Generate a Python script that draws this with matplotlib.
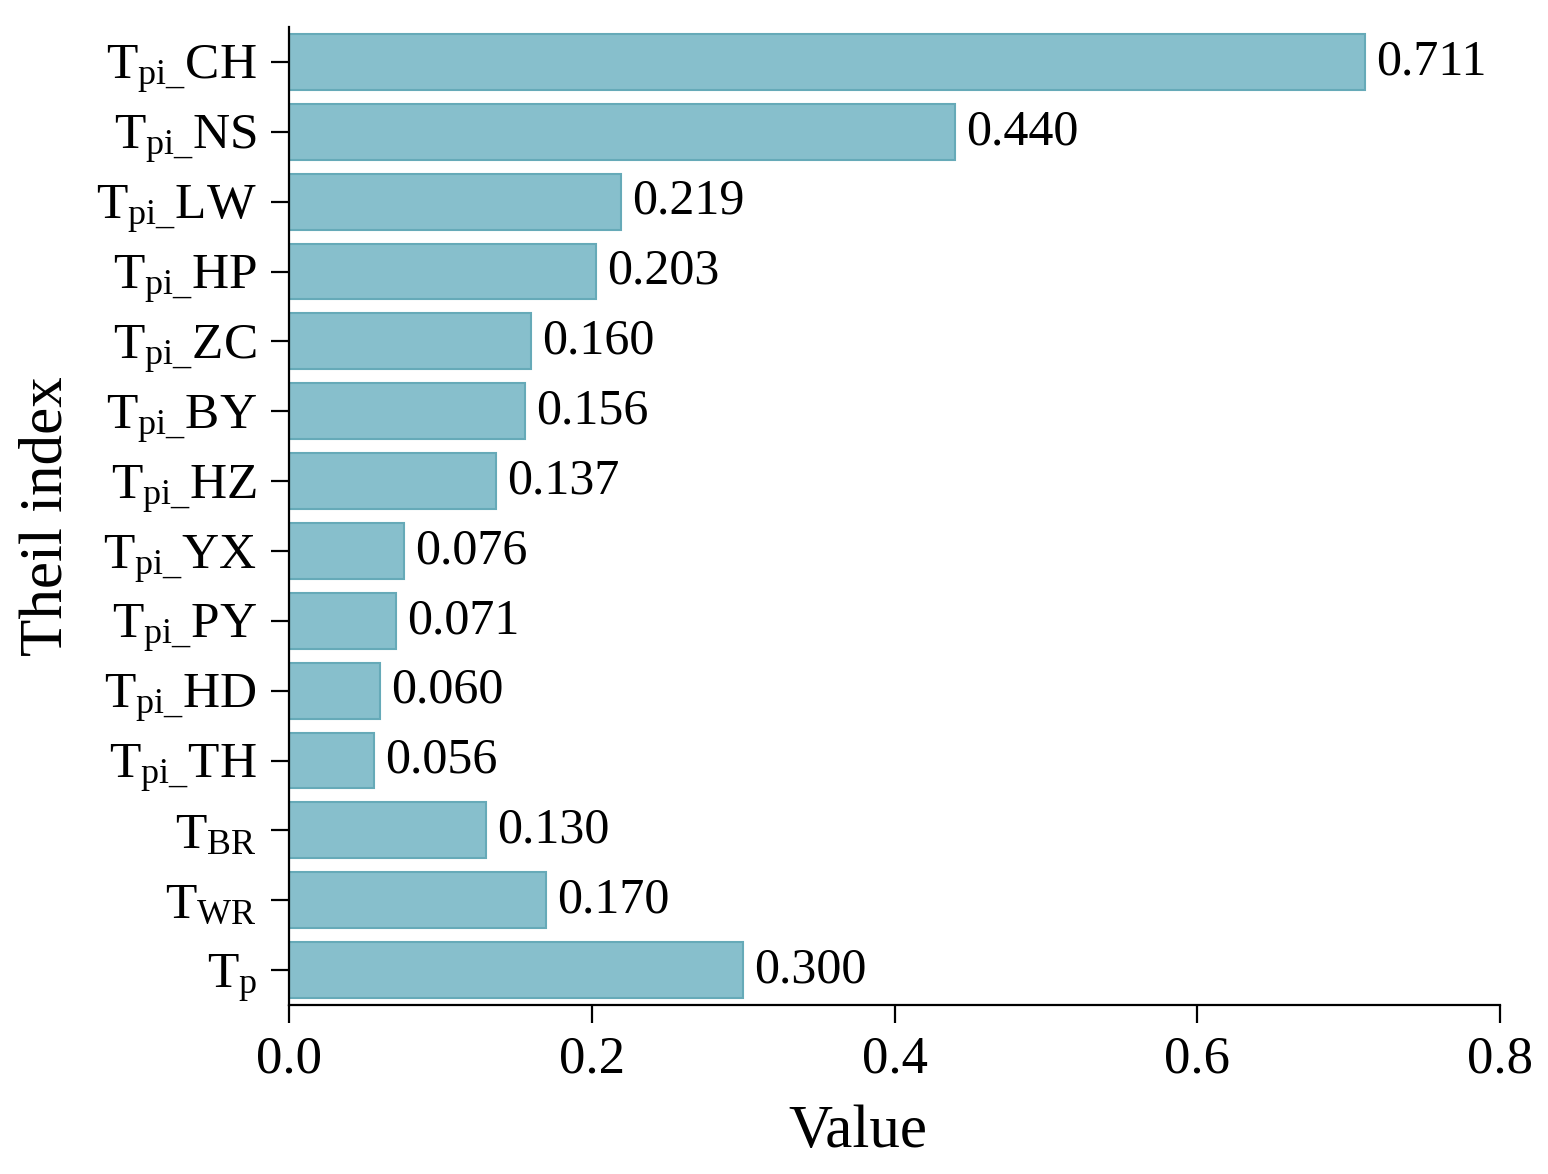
import matplotlib
matplotlib.use('Agg')
import matplotlib.pyplot as plt

plt.rcParams['font.family'] = ['Liberation Serif', 'DejaVu Serif']
plt.rcParams['mathtext.fontset'] = 'custom'
plt.rcParams['mathtext.rm'] = 'Liberation Serif'
plt.rcParams['mathtext.it'] = 'Liberation Serif:italic'

labels = [r'T$_{\mathrm{pi\_}}$CH', r'T$_{\mathrm{pi\_}}$NS', r'T$_{\mathrm{pi\_}}$LW',
          r'T$_{\mathrm{pi\_}}$HP', r'T$_{\mathrm{pi\_}}$ZC', r'T$_{\mathrm{pi\_}}$BY',
          r'T$_{\mathrm{pi\_}}$HZ', r'T$_{\mathrm{pi\_}}$YX', r'T$_{\mathrm{pi\_}}$PY',
          r'T$_{\mathrm{pi\_}}$HD', r'T$_{\mathrm{pi\_}}$TH', r'T$_{\mathrm{BR}}$',
          r'T$_{\mathrm{WR}}$', r'T$_{\mathrm{p}}$']
values = [0.711, 0.440, 0.219, 0.203, 0.160, 0.156, 0.137,
          0.076, 0.071, 0.060, 0.056, 0.130, 0.170, 0.300]
xticks = [0.0, 0.2, 0.4, 0.6, 0.8]

fig = plt.figure(figsize=(15.48, 11.74), dpi=100)
ax = fig.add_axes([0.1867, 0.1439, 0.969 - 0.1867, 0.977 - 0.1439])

pos = list(range(len(values)))
bars = ax.barh(pos, values, height=0.8, color='#87BFCC', edgecolor='#66AAB8', linewidth=1.5)
ax.bar_label(bars, labels=[f'{v:.3f}' for v in values], padding=8, fontsize=36)

ax.set_ylim(len(values) - 0.5, -0.5)
ax.set_xlim(0, 0.8)
ax.set_yticks(pos)
ax.set_yticklabels(labels)
ax.set_xticks(xticks)
ax.set_xticklabels([f'{t:.1f}' for t in xticks])

for s in ['top', 'right']:
    ax.spines[s].set_visible(False)
for s in ['left', 'bottom']:
    ax.spines[s].set_linewidth(1.6)

ax.tick_params(axis='y', labelsize=37, length=13, width=1.6, pad=10)
ax.tick_params(axis='x', labelsize=38, length=13, width=1.6, pad=9)

ax.set_xlabel('Value', fontsize=44)
ax.xaxis.set_label_coords(0.47, -0.102)
ax.set_ylabel('Theil index', fontsize=44, labelpad=16)

fig.savefig('out.png', dpi=100)
